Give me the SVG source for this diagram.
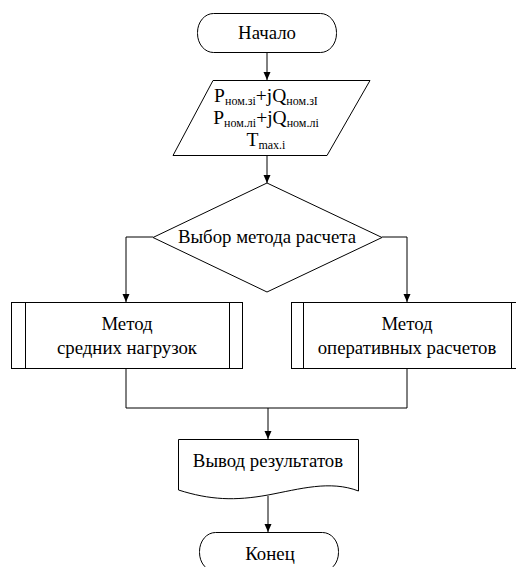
<svg xmlns="http://www.w3.org/2000/svg" width="516" height="567" viewBox="0 0 516 567">
<defs>
<marker id="arr" markerWidth="8" markerHeight="10" refX="8" refY="5" orient="auto" markerUnits="userSpaceOnUse">
<path d="M0,1.5 L8,5 L0,8.5 Z" fill="#000"/>
</marker>
<style>
.s{fill:#fff;stroke:#000;stroke-width:1}
.c{fill:none;stroke:#000;stroke-width:1}
</style>
</defs>
<rect width="516" height="567" fill="#fff"/>
<g id="connectors">
<path class="c" d="M267,52 V80" marker-end="url(#arr)"/>
<path class="c" d="M267,155 V183" marker-end="url(#arr)"/>
<path class="c" d="M153,237 H126 V302" marker-end="url(#arr)"/>
<path class="c" d="M382,237 H407 V302" marker-end="url(#arr)"/>
<path class="c" d="M126,369 V408 H407 V369"/>
<path class="c" d="M268,408 V439" marker-end="url(#arr)"/>
<path class="c" d="M268,496 V532" marker-end="url(#arr)"/>
</g>
<g font-family="Liberation Serif, serif" font-size="18.8" text-anchor="middle" fill="#000">
<g id="start">
<rect class="s" x="197.5" y="13.5" width="139" height="39" rx="16" ry="19"/>
<text x="267" y="39">Начало</text>
</g>
<g id="input">
<path class="s" d="M213,80.5 H370 L327,155.5 H173 Z"/>
<text font-size="19.5" x="266" y="102">P<tspan font-size="12" dy="3">ном.зі</tspan><tspan dy="-3">+jQ</tspan><tspan font-size="12" dy="3">ном.зI</tspan></text>
<text font-size="19.5" x="266" y="124">P<tspan font-size="12" dy="3">ном.лі</tspan><tspan dy="-3">+jQ</tspan><tspan font-size="12" dy="3">ном.лі</tspan></text>
<text font-size="19.5" x="266" y="146">T<tspan font-size="12" dy="3">max.i</tspan></text>
</g>
<g id="decision">
<path class="s" d="M267,183 L382,237.5 L267,292 L153,237.5 Z"/>
<text x="267" y="243">Выбор метода расчета</text>
</g>
<g id="method1">
<rect class="s" x="11.5" y="302.5" width="231" height="66"/>
<path class="c" d="M25.5,302.5 V368.5 M229.5,302.5 V368.5"/>
<text x="127" y="330">Метод</text>
<text x="127" y="354">средних нагрузок</text>
</g>
<g id="method2">
<rect class="s" x="291.5" y="302.5" width="232" height="66"/>
<path class="c" d="M303.5,302.5 V368.5 M511.5,302.5 V368.5"/>
<text x="407" y="330">Метод</text>
<text x="407" y="354">оперативных расчетов</text>
</g>
<g id="output">
<path class="s" d="M178.5,439.5 H358.5 V491 C330,480 300,489 268,495 C235,501 210,500 178.5,490 Z"/>
<text x="268" y="467">Вывод результатов</text>
</g>
<g id="end">
<rect class="s" x="199.5" y="532.5" width="139" height="39" rx="16" ry="19"/>
<text x="270" y="560">Конец</text>
</g>
</g>
</svg>
